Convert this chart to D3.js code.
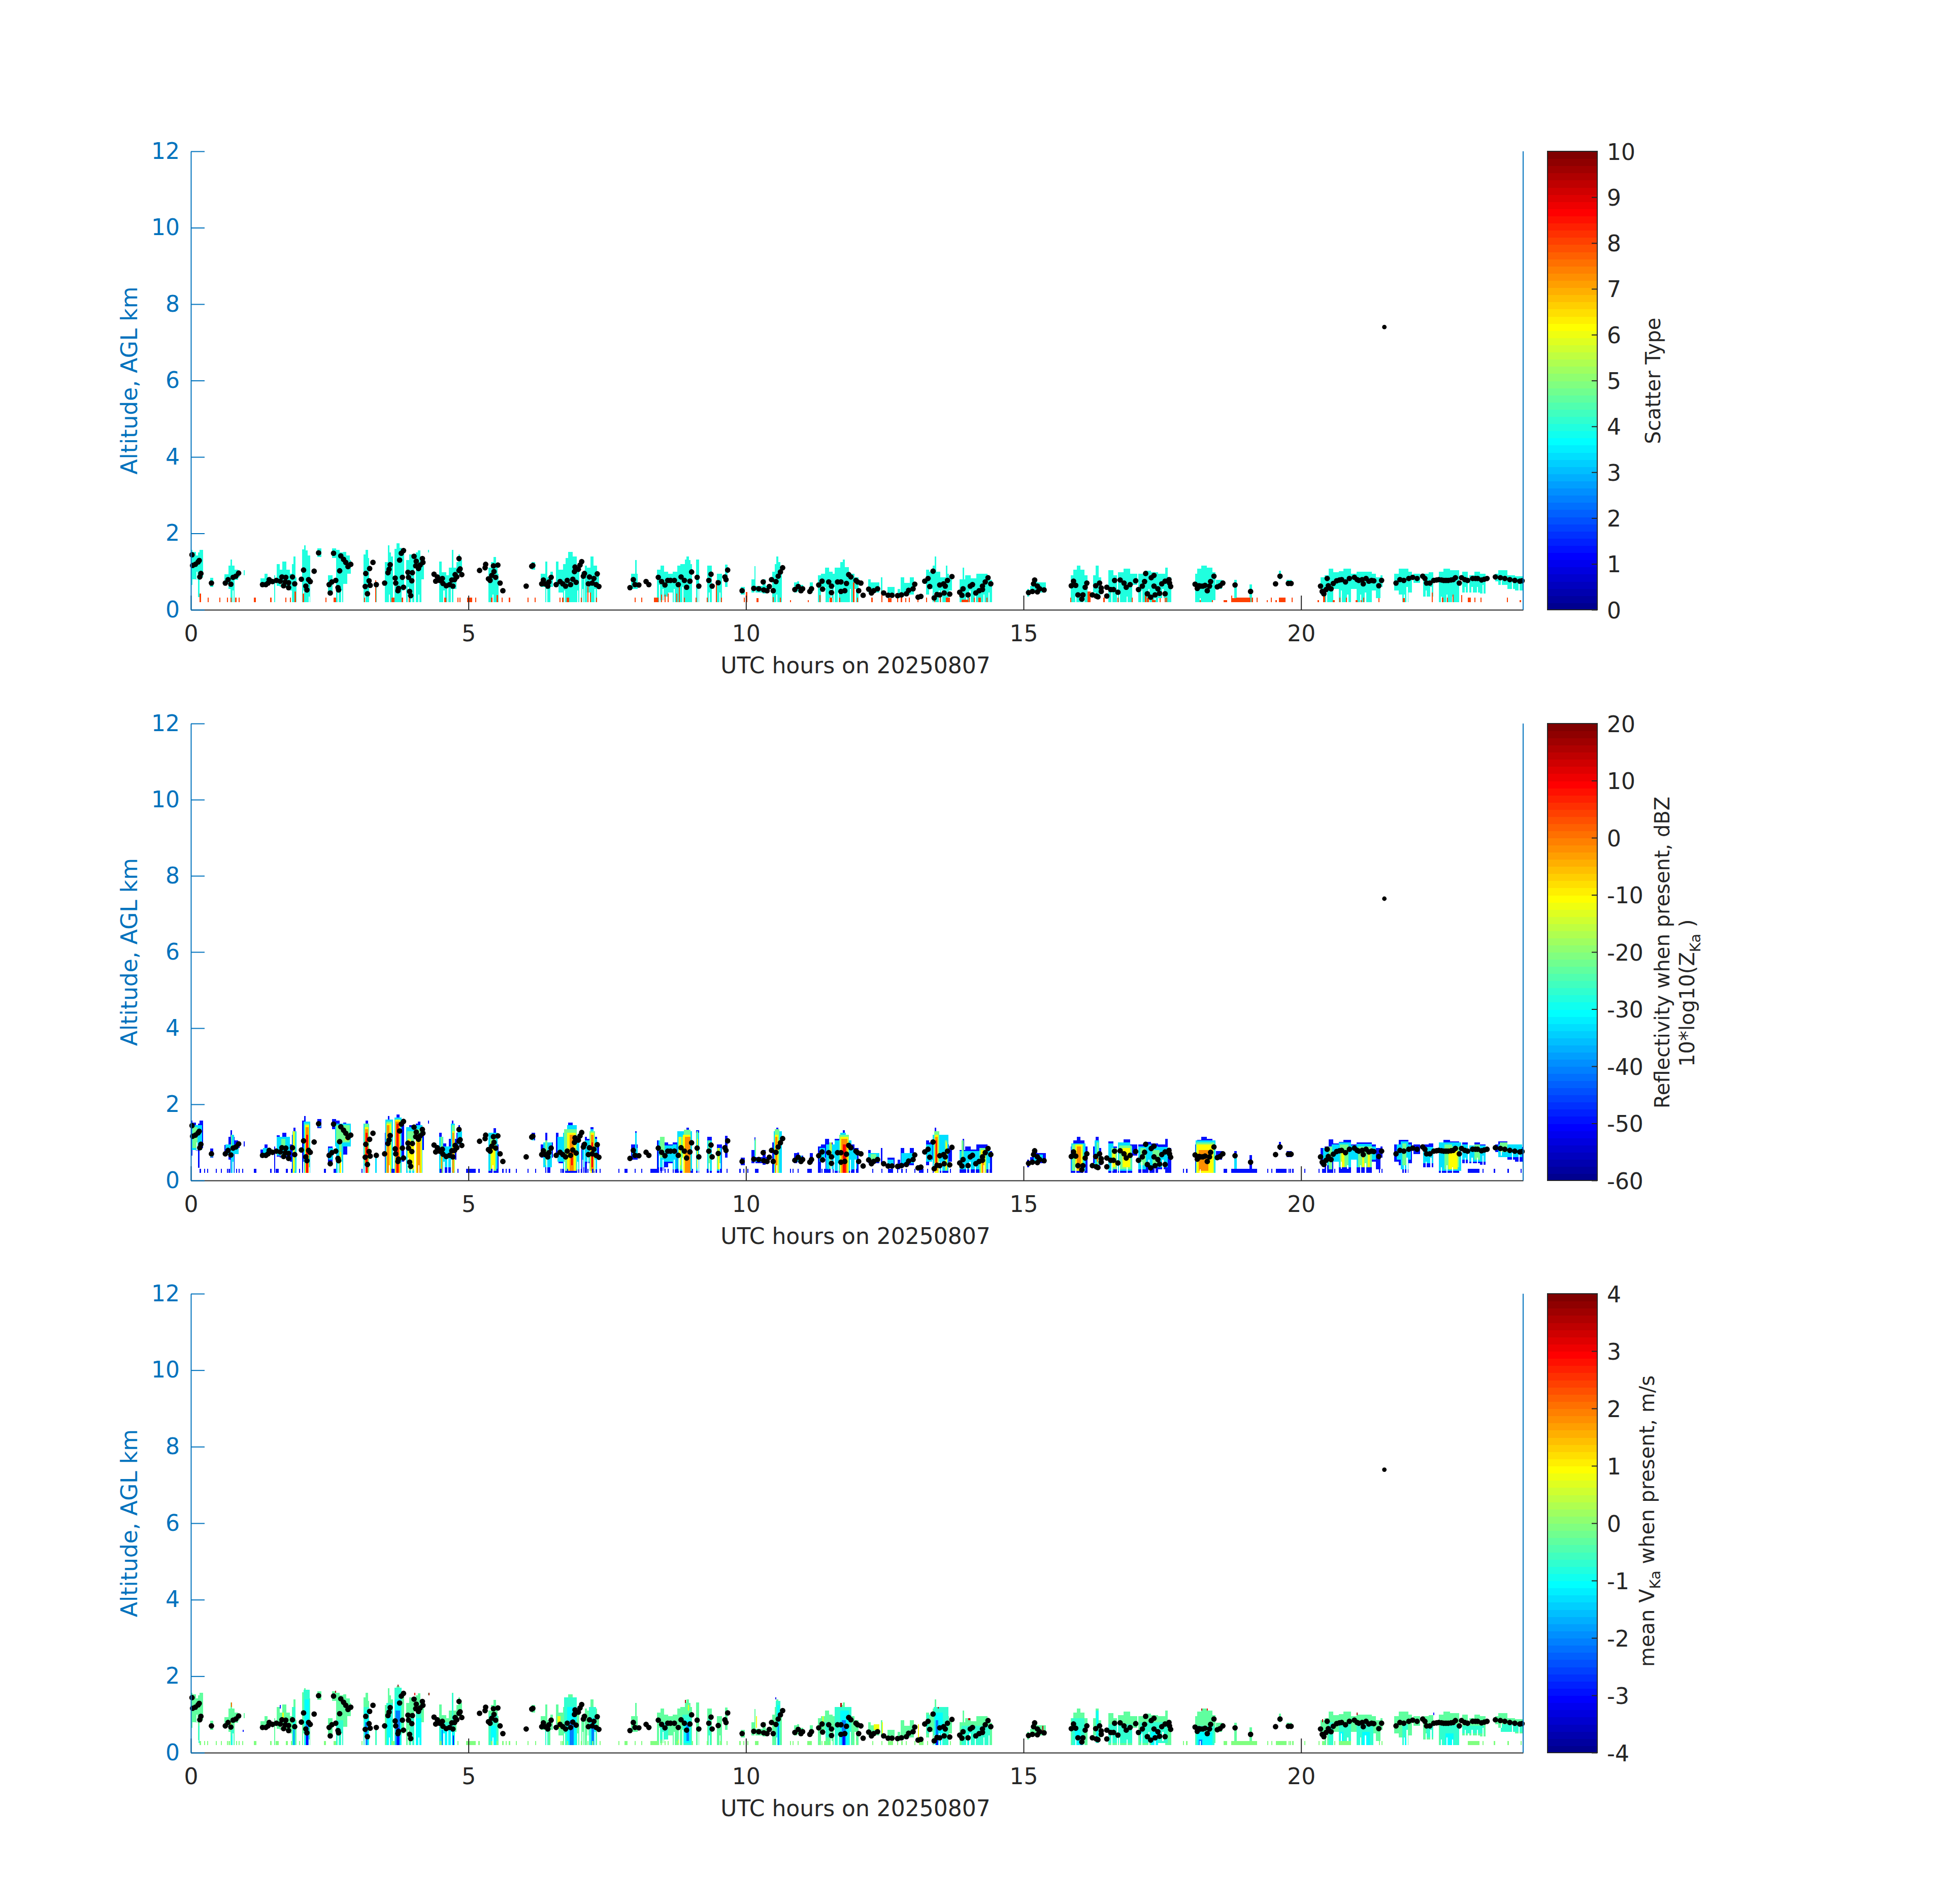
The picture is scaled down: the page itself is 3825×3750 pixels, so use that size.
<!DOCTYPE html>
<html>
<head>
<meta charset="utf-8">
<script src="https://cdn.jsdelivr.net/npm/d3@7"></script>
<style>
  html, body { margin: 0; background: #fff; }
  text { font-family: "DejaVu Sans"; }
</style>
</head>
<body>
<div id="chart"></div>
<script>
// -------- Tick labels --------
const hourTicks = [0, 5, 10, 15, 20];
const altTicks = [0, 2, 4, 6, 8, 10, 12];
const scatterTicks = [0, 1, 2, 3, 4, 5, 6, 7, 8, 9, 10];
const dbzTicks = [-60, -50, -40, -30, -20, -10, 0, 10, 20];
const velTicks = [-4, -3, -2, -1, 0, 1, 2, 3, 4];

// -------- Cloud base / top estimates: [hour0, hour1, km0, km1] --------
const cloudSpans = [
  [0,.03,.65,1.57],[.03,.09,.80,1.52],[.09,.13,.78,1.42],[.13,.16,.33,1.5],[.16,.22,.85,1.57],[.35,.40,.60,.84],
  [.60,.68,.68,.93],[.68,.71,.55,1.15],[.71,.74,.20,1.32],[.74,.79,.20,1.15],[.79,.85,.78,1.05],[.85,.88,.85,1.0],[.95,.97,.9,1.03],
  [1.25,1.33,.6,.82],[1.33,1.38,.6,.95],[1.38,1.44,.7,.85],[1.5,1.52,.2,.9],[1.55,1.6,.63,1.19],[1.6,1.65,.6,1.05],[1.65,1.72,.6,1.26],[1.72,1.78,.55,1.05],[1.78,1.82,.5,.95],
  [1.82,1.85,.2,1.2],[1.85,1.88,.2,1.39],[1.88,1.9,.2,.85],[2.0,2.04,.2,1.58],[2.04,2.07,.2,1.69],[2.07,2.1,.2,1.55],[2.1,2.15,.2,1.42],[2.28,2.35,1.38,1.61],
  [2.47,2.55,.42,.9],[2.54,2.62,1.35,1.61],[2.62,2.68,.2,1.57],[2.68,2.74,.2,1.5],[2.74,2.8,.9,1.52],[2.8,2.86,1.0,1.42],[2.74,2.82,.68,1.2],[2.82,2.88,.95,1.3],
  [3.11,3.15,.2,1.45],[3.15,3.19,.2,1.57],[3.19,3.21,.2,1.35],[3.32,3.35,.2,.7],[3.49,3.55,.2,1.25],[3.55,3.58,.2,1.69],[3.58,3.6,.2,1.5],[3.6,3.64,.2,1.4],[3.67,3.7,.2,1.6],[3.7,3.76,.2,1.74],[3.76,3.8,.2,1.62],[3.8,3.84,.5,1.5],
  [3.88,3.93,.2,1.3],[3.93,4.02,.2,1.45],[4.05,4.09,.2,1.5],[4.09,4.13,.2,1.55],[4.13,4.15,.2,1.4],[4.15,4.2,.8,1.35],[4.27,4.29,1.5,1.57],
  [4.47,4.52,.2,1.26],[4.52,4.6,.2,.98],[4.6,4.65,.2,.9],[4.65,4.7,.2,1.1],[4.7,4.73,.2,1.57],[4.73,4.78,.55,1.1],[4.78,4.82,.9,1.25],[4.82,4.85,.95,1.45],[4.85,4.88,.9,1.3],
  [5.36,5.41,.2,1.1],[5.41,5.45,.2,1.25],[5.45,5.5,.2,1.38],[5.5,5.52,.2,1.2],[5.52,5.54,.2,.95],[6.14,6.2,1.05,1.25],
  [6.3,6.38,.6,.95],[6.38,6.42,.2,1.26],[6.42,6.48,.2,.85],[6.48,6.52,.6,1.0],[6.58,6.62,.62,1.26],[6.62,6.7,.45,1.05],[6.7,6.75,.2,1.2],[6.75,6.8,.2,1.35],[6.8,6.88,.2,1.52],[6.88,6.95,.2,1.4],[6.95,7.0,.2,1.1],
  [7.03,7.09,.2,.98],[7.1,7.13,.2,1.15],[7.13,7.2,.45,1.1],[7.2,7.25,.2,1.4],[7.25,7.32,.2,1.15],[7.32,7.35,.6,1.0],
  [7.93,8.05,.55,.95],[8.0,8.03,.7,1.3],[8.2,8.23,.65,.8],
  [8.4,8.46,.2,1.05],[8.46,8.52,.25,1.15],[8.52,8.6,.35,1.0],[8.6,8.68,.45,.95],[8.68,8.76,.2,1.0],[8.76,8.82,.2,1.15],[8.82,8.9,.2,1.2],[8.9,8.93,.2,1.32],[8.93,8.97,.2,1.39],[8.97,9.0,.2,1.3],[9.0,9.03,.2,1.2],
  [9.1,9.16,.2,1.32],[9.3,9.38,.2,1.15],[9.48,9.57,.2,.95],[9.62,9.67,.6,1.18],[9.91,9.98,.4,.6],
  [10.1,10.15,.45,.8],[10.15,10.17,.5,1.14],[10.17,10.38,.45,.62],[10.3,10.35,.42,.8],[10.47,10.52,.2,1.0],[10.52,10.55,.2,1.2],[10.55,10.58,.2,1.39],[10.58,10.62,.2,1.25],[10.62,10.65,.2,1.1],
  [10.87,10.92,.45,.72],[10.92,10.96,.48,.74],[10.96,11.03,.45,.65],[11.15,11.2,.45,.72],
  [11.3,11.35,.2,.9],[11.35,11.42,.5,.95],[11.42,11.5,.2,1.1],[11.5,11.56,.3,1.0],[11.56,11.6,.2,.95],[11.6,11.7,.2,1.1],[11.7,11.74,.2,1.25],[11.74,11.78,.2,1.32],[11.78,11.85,.2,1.12],[11.85,11.95,.2,.95],[11.95,12.03,.2,.85],
  [12.2,12.25,.45,.8],[12.25,12.4,.45,.72],[12.43,12.46,.45,.85],[12.55,12.68,.35,.6],[12.73,12.78,.3,.55],[12.79,12.85,.35,.85],[12.85,12.95,.4,.7],[12.95,13.02,.4,.85],
  [13.24,13.3,.4,1.05],[13.3,13.36,.55,1.0],[13.36,13.4,.2,1.15],[13.4,13.43,.2,1.39],[13.43,13.5,.2,1.0],[13.5,13.6,.2,.85],[13.6,13.63,.2,1.15],[13.63,13.66,.2,.95],[13.66,13.71,.5,.85],
  [13.85,13.95,.2,.8],[13.9,13.93,.6,1.1],[13.95,14.05,.2,.9],[14.05,14.15,.2,.82],[14.15,14.25,.2,.95],[14.25,14.35,.2,.95],[14.35,14.43,.2,.78],
  [15.06,15.1,.35,.55],[15.12,15.22,.48,.62],[15.18,15.25,.48,.75],[15.25,15.4,.45,.72],
  [15.85,15.9,.2,.9],[15.9,15.96,.2,1.05],[15.96,16.02,.2,1.15],[16.02,16.1,.2,1.05],[16.1,16.15,.2,.9],[16.25,16.3,.45,.9],[16.3,16.35,.3,1.15],[16.35,16.4,.4,.85],
  [16.53,16.62,.2,1.03],[16.62,16.68,.2,.9],[16.7,16.8,.2,.98],[16.8,16.92,.2,1.08],[16.92,16.96,.2,.95],[16.96,17.05,.65,.95],[17.07,17.2,.2,.95],[17.2,17.3,.2,1.02],[17.3,17.42,.2,.98],[17.42,17.55,.3,.95],[17.55,17.6,.2,1.1],[17.6,17.66,.2,.85],
  [18.09,18.13,.2,.95],[18.13,18.2,.2,1.07],[18.2,18.3,.2,1.15],[18.3,18.4,.2,1.1],[18.4,18.46,.25,.98],[18.47,18.58,.55,.78],[18.8,18.84,.25,.78],[19.07,19.12,.2,.67],[19.6,19.64,.8,1.02],[19.74,19.83,.62,.78],
  [20.35,20.42,.4,.85],[20.42,20.5,.2,.9],[20.5,20.58,.2,1.08],[20.58,20.68,.55,.98],[20.68,20.76,.2,1.01],[20.76,20.9,.2,1.07],[20.9,21.0,.55,.95],[21.0,21.27,.2,1.0],[21.27,21.35,.5,.95],[21.35,21.43,.3,.85],[21.43,21.47,.6,.9],
  [21.68,21.76,.5,.95],[21.76,21.82,.4,1.07],[21.82,21.93,.2,1.07],[21.93,22.0,.45,1.0],[22.02,22.14,.7,.95],[22.2,22.3,.35,.95],[22.3,22.38,.35,.98],
  [22.48,22.56,.2,1.0],[22.56,22.68,.2,1.07],[22.68,22.85,.2,1.03],[22.9,23.0,.45,1.0],[23.03,23.12,.45,.9],[23.12,23.22,.45,1.0],[23.22,23.32,.42,.95],
  [23.5,23.55,.75,.95],[23.55,23.72,.65,1.03],[23.72,23.85,.55,.9],[23.85,24,.5,.88]
];

// -------- Slits with no return inside the clouds: [hour0, hour1, km0, km1] --------
const cloudGaps = [
  [.1,.11,.78,1.0],[.75,.76,.2,.5],[1.62,1.63,.6,.75],[1.69,1.7,.6,.8],[2.02,2.03,.2,.5],[2.12,2.13,.2,.35],[2.64,2.65,.2,.6],[2.71,2.72,.2,.5],[3.13,3.14,.2,.45],[3.57,3.58,.2,.4],[3.91,3.92,.2,.6],[3.97,3.98,.2,.5],[4.1,4.11,.2,.4],
  [4.55,4.57,.2,.5],[4.62,4.63,.2,.6],[4.68,4.69,.2,.55],[5.43,5.44,.2,.4],[6.4,6.41,.2,.55],[6.72,6.73,.2,.5],[6.96,6.98,.2,.5],[7.05,7.06,.2,.55],[7.14,7.16,.45,.7],[7.27,7.29,.2,.55],[8.43,8.44,.2,.65],[8.5,8.51,.25,.55],[8.7,8.72,.2,.55],
  [8.79,8.8,.2,.6],[8.85,8.86,.2,.6],[9.13,9.14,.2,.55],[9.33,9.34,.2,.45],[9.52,9.53,.2,.45],[10.55,10.56,.2,.4],[11.41,11.43,.2,.6],[11.52,11.53,.3,.55],[11.58,11.6,.2,.6],[11.65,11.67,.2,.45],[11.87,11.89,.2,.55],[11.95,11.98,.2,.55],
  [13.38,13.39,.2,.45],[13.47,13.48,.2,.5],[13.52,13.54,.2,.5],[13.65,13.66,.2,.45],[13.97,13.98,.2,.4],[14.02,14.05,.2,.5],[14.12,14.14,.2,.45],[14.28,14.29,.2,.4],[14.37,14.39,.2,.45],[15.93,15.94,.2,.4],[16.08,16.09,.2,.45],
  [16.58,16.59,.2,.45],[16.72,16.73,.2,.4],[16.86,16.87,.2,.35],[17.12,17.14,.2,.5],[17.25,17.27,.2,.55],[17.36,17.37,.2,.45],[17.5,17.52,.3,.55],[18.17,18.18,.2,.3],[20.45,20.47,.2,.55],[20.72,20.73,.2,.5],[20.83,20.85,.2,.4],[21.06,21.07,.2,.4],[21.15,21.17,.2,.45],
  [21.85,21.86,.2,.4],[21.9,21.92,.2,.6],[22.24,22.25,.35,.5],[22.33,22.35,.35,.6],[22.52,22.53,.2,.35],[22.62,22.63,.2,.4],[22.72,22.73,.2,.35],[22.95,22.97,.45,.6],[23.07,23.09,.45,.6],[23.17,23.19,.45,.6],[23.27,23.29,.42,.65],[23.6,23.62,.65,.78],[23.8,23.82,.55,.72],[23.92,23.94,.5,.7]
];

// -------- Scatter type 8 returns near the ground: [hour0, hour1, km1] --------
const scatterLow = [
  [.16,.18,.43],[.30,.32,.32],[.51,.53,.32],[.65,.67,.32],[.71,.73,.32],[.80,.82,.32],[.86,.88,.32],[1.13,1.17,.32],[1.43,1.45,.32],[1.70,1.72,.32],[1.78,1.80,.32],[1.87,1.89,.48],
  [2.01,2.04,.43],[2.42,2.44,.32],[2.57,2.62,.32],[3.12,3.14,.32],[3.32,3.34,.77],[3.61,3.67,.32],[3.80,3.82,.32],[3.92,3.94,.32],[4.56,4.6,.32],[4.8,4.82,.32],[4.84,4.86,.32],
  [4.98,5.07,.32],[5.12,5.14,.32],[5.41,5.43,.32],[5.51,5.53,.38],[5.6,5.62,.32],[5.73,5.75,.32],[6.06,6.08,.32],[6.19,6.21,.32],[6.64,6.66,.32],[6.69,6.71,.32],[6.77,6.81,.32],[7.02,7.04,.32],[7.14,7.16,.6],[7.19,7.21,.45],[7.3,7.32,.32],
  [7.99,8.01,.32],[8.11,8.13,.32],[8.34,8.42,.32],[8.47,8.49,.4],[8.53,8.55,.4],[8.59,8.61,.43],[8.74,8.76,.43],[8.79,8.81,.65],[8.88,8.9,.32],[9.09,9.11,.32],[9.29,9.31,.32],[9.46,9.48,.77],[9.55,9.57,.32],
  [9.96,9.98,.32],[10.0,10.02,.47],[10.19,10.23,.3],[10.48,10.5,.33],[10.61,10.63,.32],[10.79,10.81,.25],[11.11,11.13,.25],[11.32,11.34,.38],[11.51,11.55,.32],[11.68,11.7,.32],[11.93,11.95,.72],[12.0,12.02,.32],
  [12.26,12.28,.32],[12.44,12.46,.5],[12.56,12.62,.3],[12.72,12.74,.32],[12.79,12.81,.32],[12.87,12.89,.3],[12.93,12.95,.32],[13.09,13.11,.32],[13.24,13.26,.32],[13.39,13.41,.32],[13.49,13.51,.32],[13.6,13.67,.32],
  [13.88,14.0,.27],[14.01,14.03,.32],[14.1,14.12,.32],[14.19,14.23,.32],[14.33,14.35,.32],[15.84,15.86,.32],[16.15,16.21,.48],[16.44,16.46,.32],[16.69,16.71,.32],[16.95,16.97,.32],[17.19,17.21,.4],[17.31,17.33,.32],[17.45,17.47,.3],[17.54,17.56,.32],
  [17.22,17.26,.32],[17.33,17.38,.25],[17.57,17.59,.32],[18.17,18.19,.25],[18.39,18.41,.25],[18.6,18.67,.25],[18.74,18.76,.37],[18.76,18.83,.3],[18.83,19.09,.32],[19.11,19.13,.32],[19.2,19.22,.32],[19.38,19.4,.25],[19.45,19.47,.32],[19.54,19.56,.25],[19.6,19.72,.32],[19.83,19.85,.32],
  [20.3,20.32,.25],[20.4,20.43,.45],[20.57,20.61,.25],[20.69,20.71,.32],[20.81,20.83,.32],[20.98,21.02,.25],[21.07,21.09,.25],[21.12,21.14,.32],[21.39,21.41,.3],[21.83,21.87,.3],[22.35,22.37,.45],[22.54,22.56,.32],[22.63,22.65,.32],[22.73,22.75,.4],[22.88,22.9,.38],
  [23.0,23.06,.32],[23.12,23.14,.32],[23.23,23.25,.32],[23.71,23.73,.32],[23.94,23.96,.25]
];

// -------- Shallow gates at the lowest range bins: [hour0, hour1] --------
const lowGates = [
  [.16,.18],[.24,.26],[.29,.31],[.45,.47],[.54,.56],[.65,.67],[.68,.70],[.81,.83],[.86,.88],[.92,.94],[1.13,1.18],[1.43,1.45],[1.53,1.58],[1.71,1.75],[1.80,1.82],[1.95,1.97],[2.40,2.43],[2.57,2.62],[3.07,3.09],[3.61,3.67],
  [4.48,4.52],[4.80,4.82],[4.96,5.13],[5.18,5.2],[5.41,5.43],[5.51,5.53],[5.61,5.63],[5.67,5.69],[5.73,5.75],[5.85,5.87],[6.06,6.08],[6.2,6.22],[6.66,6.68],[6.69,6.71],[6.78,6.8],[7.02,7.04],[7.14,7.16],[7.23,7.25],[7.36,7.38],
  [7.70,7.72],[7.81,7.87],[7.99,8.01],[8.11,8.13],[8.28,8.42],[8.47,8.49],[8.53,8.55],[8.59,8.61],[8.74,8.78],[9.03,9.05],[9.29,9.32],[9.53,9.56],[9.65,9.67],[9.88,9.91],[9.95,9.97],[10.02,10.04],[10.16,10.23],[10.79,10.81],[10.84,10.86],[10.93,10.95],
  [11.1,11.19],[11.31,11.33],[11.36,11.38],[11.41,11.43],[11.45,11.47],[11.5,11.52],[11.98,12.0],[12.27,12.29],[12.44,12.46],[12.56,12.65],[12.72,12.74],[12.8,12.82],[12.88,12.9],[13.03,13.05],[13.12,13.2],[13.26,13.28],[13.67,13.69],
  [17.87,17.89],[17.93,17.95],[18.6,18.67],[18.74,19.21],[19.39,19.41],[19.46,19.48],[19.55,19.74],[19.77,19.79],[19.8,19.82],[19.84,19.87],[20.06,20.08],[20.31,20.33],[20.38,20.42],[20.6,20.62],[20.68,20.9],[21.4,21.42],[21.45,21.47],
  [23.0,23.21],[23.27,23.29],[23.47,23.5],[23.72,23.74],[23.95,23.97]
];

// -------- Reflectivity cores, by dBZ level: [hour0, hour1, km0, km1] --------
const zCyan = [
  [.02,.2,.8,1.45],[.35,.39,.62,.7],[.62,.86,.7,.95],[.72,.78,.2,1.2],[1.3,1.42,.68,.85],[1.55,1.78,.65,1.15],[1.83,1.9,.2,1.3],[2.03,2.15,.2,1.55],[2.3,2.34,1.4,1.5],[2.48,2.56,.55,.85],[2.6,2.88,.9,1.5],[2.62,2.74,.2,1.0],
  [3.11,3.21,.2,1.5],[3.32,3.35,.2,.7],[3.5,3.64,.2,1.6],[3.67,3.8,.2,1.65],[3.88,4.02,.2,1.4],[4.05,4.17,.2,1.45],[4.47,4.55,.2,1.15],[4.55,4.68,.35,.9],[4.68,4.76,.2,1.5],[4.8,4.88,.95,1.3],[5.36,5.52,.25,1.25],[6.14,6.18,1.05,1.15],
  [6.35,6.5,.35,1.0],[6.6,6.7,.5,1.15],[6.7,6.78,.3,1.25],[6.78,6.95,.25,1.45],[6.95,7.0,.3,1.1],[7.05,7.09,.35,.9],[7.1,7.2,.5,1.05],[7.2,7.25,.25,1.35],[7.25,7.32,.3,1.1],[7.95,8.05,.65,.85],[8.0,8.03,.85,1.25],
  [8.42,8.52,.35,1.05],[8.52,8.68,.5,.92],[8.68,8.75,.3,.95],[8.76,9.03,.25,1.3],[9.1,9.16,.25,1.25],[9.3,9.38,.25,1.05],[9.48,9.56,.25,.85],[10.17,10.36,.5,.58],[10.15,10.17,.6,1.05],
  [10.5,10.65,.2,1.3],[10.9,11.0,.5,.65],[11.32,11.42,.5,.85],[11.44,11.6,.3,.95],[11.6,11.7,.25,1.05],[11.7,11.8,.2,1.25],[11.8,11.9,.25,1.05],[11.9,12.0,.3,.82],[12.2,12.4,.48,.72],[12.55,12.66,.4,.55],[12.8,13.02,.45,.72],[13.24,13.35,.5,.95],[13.36,13.65,.25,1.2],[13.85,14.4,.3,.78],[15.18,15.35,.5,.68],
  [15.86,16.12,.25,.98],[16.28,16.36,.35,1.05],[16.53,16.62,.25,.98],[16.7,16.92,.25,1.0],[16.92,16.96,.25,.9],[17.07,17.2,.3,.9],[17.2,17.3,.4,.95],[17.3,17.42,.35,.9],[17.42,17.6,.35,.88],[18.1,18.46,.2,1.05],[18.8,18.84,.3,.72],[19.75,19.82,.65,.72],
  [20.4,20.55,.4,.85],[20.55,20.68,.5,.95],[20.68,20.9,.35,1.0],[20.9,21.0,.55,.92],[21.0,21.27,.35,.96],[21.27,21.35,.55,.9],[21.72,21.8,.55,.95],[21.8,21.93,.3,1.03],[21.93,21.98,.55,.95],
  [22.2,22.38,.45,.88],[22.48,22.88,.25,1.0],[22.9,23.0,.55,.95],[23.03,23.32,.5,.92],[23.55,23.98,.62,.95]
];
const zGreen = [
  [.03,.12,.85,1.4],[.72,.74,.9,1.2],[1.63,1.7,.8,1.1],[1.84,1.88,.25,1.3],[2.05,2.13,.2,1.5],[2.62,2.86,1.0,1.45],[2.67,2.72,.2,1.0],[3.13,3.2,.2,1.5],[3.52,3.62,.2,1.55],[3.68,3.78,.2,1.6],[3.9,4.02,.25,1.3],[4.05,4.15,.2,1.35],[4.5,4.54,.2,1.15],[4.7,4.76,.25,1.45],
  [5.39,5.5,.25,1.1],[6.38,6.42,.4,1.05],[6.72,6.95,.25,1.35],[7.18,7.28,.25,1.3],[8.45,8.53,.6,1.15],[8.78,8.88,.3,1.15],[8.88,9.0,.25,1.33],[9.11,9.14,.3,1.3],[9.32,9.36,.3,1.05],[9.48,9.53,.3,.85],[10.16,10.17,.65,1.1],[10.52,10.6,.2,1.35],[11.5,11.53,.3,1.0],[11.68,11.85,.2,1.2],
  [12.25,12.35,.55,.7],[13.39,13.48,.2,1.3],[13.58,13.63,.25,1.05],[13.88,13.92,.5,1.05],[14.2,14.33,.2,.85],[15.88,16.08,.25,.95],[16.32,16.35,.4,1.0],[16.58,16.68,.3,.85],[16.72,16.95,.3,.92],[17.1,17.2,.4,.85],[17.32,17.45,.4,.8],[18.11,18.44,.2,1.0],
  [20.5,20.56,.3,.9],[20.7,20.85,.35,.95],[21.03,21.27,.35,.9],[21.82,21.9,.4,.98],[22.58,22.72,.3,.95],[22.72,22.85,.35,.9],[23.12,23.22,.55,.95],[23.58,23.72,.75,1.0]
];
const zYellow = [
  [1.84,1.87,.2,1.3],[2.06,2.13,.2,1.45],[2.68,2.71,.2,.75],[2.78,2.85,1.05,1.2],[3.13,3.2,.2,1.4],[3.52,3.6,.2,1.5],[3.68,3.77,.2,1.6],[3.91,3.96,.4,1.1],[3.96,4.02,.3,.95],[4.05,4.16,.2,1.15],[4.5,4.53,.2,.9],[4.71,4.75,.2,1.3],[5.41,5.48,.3,1.0],
  [6.78,6.93,.25,1.25],[7.2,7.26,.2,1.25],[8.79,8.83,.4,1.15],[8.86,9.0,.2,1.2],[9.12,9.14,.35,1.1],[9.49,9.52,.3,.85],[10.52,10.58,.2,1.2],[11.52,11.54,.6,1.0],[11.7,11.84,.2,1.15],[13.4,13.46,.2,1.2],[13.6,13.62,.3,1.0],[14.23,14.31,.2,.8],
  [15.93,16.06,.25,.95],[16.6,16.66,.35,.8],[16.78,16.92,.35,.85],[18.12,18.42,.2,.95],[20.73,20.78,.35,.8],[21.1,21.14,.35,.8],[21.2,21.24,.35,.8],[22.66,22.82,.3,.85]
];
const zOrange = [
  [2.07,2.12,.2,1.4],[3.14,3.19,.2,1.35],[3.53,3.58,.2,1.45],[3.69,3.76,.2,1.55],[4.07,4.13,.2,1.0],[4.51,4.53,.2,.85],[4.71,4.74,.2,1.25],[6.82,6.9,.25,1.2],[7.21,7.25,.25,1.2],[8.9,9.0,.2,1.15],[10.53,10.56,.2,1.15],[11.72,11.83,.2,1.1],
  [13.41,13.45,.25,1.15],[14.25,14.29,.2,.7],[15.96,16.03,.3,.9],[16.32,16.34,.5,.7],[18.16,18.33,.25,.8]
];
const zRed = [
  [2.08,2.11,.2,1.2],[3.15,3.18,.2,1.25],[3.7,3.74,.2,1.5],[6.85,6.88,.4,.85],[7.22,7.24,.35,1.0],[11.74,11.8,.2,.95],[13.42,13.44,.3,1.05]
];

// -------- Mean velocity streaks, by m/s level: [hour0, hour1, km0, km1] --------
const vTeal = [
  [.14,.16,.25,.7],[.72,.78,.2,.6],[1.83,1.88,.2,1.2],[2.03,2.14,.2,1.65],[2.62,2.74,.2,.85],[3.11,3.21,.2,1.2],[3.33,3.35,.2,.65],[3.52,3.64,.2,1.3],[3.67,3.8,.2,1.7],[3.95,4.02,.2,.9],[4.05,4.15,.2,1.1],[4.47,4.76,.2,.8],[4.7,4.73,.2,1.55],[5.37,5.52,.2,1.0],
  [6.38,6.44,.2,.6],[6.72,6.95,.2,1.45],[7.17,7.3,.2,1.2],[8.45,8.6,.35,.8],[8.85,9.02,.2,1.0],[9.32,9.37,.2,.9],[10.54,10.62,.2,1.35],[11.42,11.5,.4,.8],[11.6,11.9,.2,1.2],[13.25,13.3,.5,1.0],[13.38,13.65,.2,1.2],[13.88,14.4,.2,.7],[15.87,16.1,.2,.9],
  [16.3,16.35,.25,1.1],[16.53,16.68,.25,.75],[16.7,16.96,.25,.75],[17.1,17.6,.25,.8],[18.1,18.44,.2,.7],[20.5,20.58,.2,.8],[20.68,20.9,.2,.8],[21.0,21.3,.2,.8],[21.82,21.92,.2,.75],[22.25,22.38,.4,.7],[22.5,22.85,.2,.75],[22.9,23.3,.5,.7],[23.6,23.98,.55,.75]
];
const vCyan = [
  [.73,.77,.2,.45],[1.84,1.87,.2,.9],[2.05,2.13,.2,1.4],[3.13,3.2,.2,1.1],[3.53,3.6,.2,1.0],[3.68,3.79,.2,1.4],[4.05,4.15,.2,.9],[4.5,4.75,.2,.6],[5.41,5.5,.2,.7],[6.78,6.95,.2,1.2],[7.2,7.3,.2,.9],[8.88,9.0,.25,.85],[10.56,10.6,.2,1.25],[11.7,11.85,.2,1.1],
  [13.4,13.55,.2,1.05],[14.0,14.05,.2,.55],[15.92,16.02,.2,.6],[16.32,16.34,.3,1.1],[17.1,17.14,.3,.6],[17.3,17.42,.2,.55],[18.13,18.4,.2,.55],[20.7,20.76,.2,.55],[21.1,21.24,.2,.55],[21.85,21.9,.2,.4],[22.6,22.75,.2,.5]
];
const vBlue = [
  [1.85,1.87,.2,.6],[2.07,2.12,.2,.75],[3.14,3.18,.2,.8],[3.69,3.77,.2,1.1],[4.52,4.54,.2,.6],[6.82,6.9,.2,.85],[7.22,7.26,.2,.7],[8.93,8.97,.3,.75],[10.57,10.59,.2,.7],[11.73,11.8,.2,.85],[13.42,13.46,.2,.85],[16.02,16.05,.2,.4],[18.16,18.22,.2,.35]
];
const vDeep = [
  [2.08,2.11,.2,.55],[3.71,3.75,.2,.65],[4.72,4.74,.2,.45],[11.74,11.78,.2,.45],[13.43,13.45,.2,.4]
];
const vYellow = [
  [.7,.72,.6,.8],[1.65,1.67,.9,1.05],[6.6,6.66,.65,.95],[8.78,8.8,.25,.35],[8.95,8.97,1.1,1.25],[11.38,11.4,.75,.95],[12.3,12.4,.6,.75],[12.45,12.47,.5,.8],[13.1,13.12,.25,.75],[10.18,10.2,.65,.95]
];
// hour0, hour1, km0, km1, m/s
const vSpecks = [
  [3.72,3.74,1.72,1.78,4],[.72,.74,1.2,1.32,2],[1.6,1.62,1.15,1.25,-3],[2.6,2.62,1.57,1.62,3.5],[4.02,4.04,1.5,1.57,3],[4.28,4.3,1.5,1.57,3.5],[8.9,8.92,1.3,1.38,3.5],[10.53,10.55,1.4,1.45,-3.2],[11.7,11.73,1.2,1.3,3.5],
  [13.45,13.47,1.15,1.2,3.5],[14.0,14.04,.85,.9,3.5],[15.34,15.36,.55,.7,3.5],[18.2,18.22,1.1,1.15,3.5],[18.3,18.32,1.1,1.15,3],[21.0,21.02,.98,1.05,3.5],[20.38,20.4,.8,.87,3.5],[22.38,22.4,.98,1.05,-3],[.93,.95,.55,.6,-3]
];

// -------- Cloud base retrievals, same in all panels: [hour, km] --------
const ceilometerDots = [
  [.02,1.44],[.03,1.16],[.08,1.19],[.13,1.25],[.15,1.29],[.18,.95],[.16,.86],[.37,.70],[.62,.70],[.67,.79],[.72,.67],[.76,.85],[.81,.88],[.86,.96],
  [1.29,.66],[1.35,.66],[1.39,.70],[1.41,.79],[1.47,.74],[1.54,.77],[1.61,.75],[1.64,.86],[1.71,.85],[1.67,.63],[1.70,.73],[1.76,.71],[1.76,.58],[1.83,.86],[1.87,.68],[1.99,.80],[2.03,1.04],[2.07,.62],[2.09,.52],[2.12,.79],[2.15,.74],[2.22,1.01],[2.30,1.49],
  [2.49,.66],[2.54,.73],[2.51,.44],[2.57,1.48],[2.61,.77],[2.65,.58],[2.66,.52],[2.68,1.02],[2.70,1.41],[2.75,1.32],[2.79,1.24],[2.83,1.13],[2.88,1.19],
  [3.14,.61],[3.15,.95],[3.18,.42],[3.21,.76],[3.22,1.08],[3.23,.64],[3.28,1.24],[3.34,.66],[3.49,.70],[3.55,.97],[3.57,1.06],[3.59,1.18],[3.68,.83],[3.69,.70],[3.73,.50],[3.74,.56],[3.76,1.30],[3.79,1.48],[3.83,1.55],[3.83,.59],[3.81,.85],
  [3.91,.98],[3.92,.85],[3.94,.48],[3.96,.37],[3.98,.76],[3.99,.97],[4.02,1.40],[4.05,1.15],[4.06,1.27],[4.10,1.08],[4.13,1.17],[4.17,1.34],[4.18,1.24],
  [4.38,.93],[4.41,.75],[4.44,.86],[4.48,.77],[4.53,.82],[4.54,.69],[4.60,.63],[4.66,.66],[4.70,.78],[4.75,.79],[4.76,.92],[4.79,.86],[4.83,1.34],[4.83,1.03],[4.85,1.07],[4.88,.92],[4.72,.62],
  [5.20,1.03],[5.30,1.10],[5.31,1.19],[5.36,.81],[5.39,.77],[5.42,.90],[5.45,1.15],[5.46,1.00],[5.49,.85],[5.53,1.17],[5.57,.70],[5.62,.50],
  [6.04,.62],[6.14,1.14],[6.16,1.16],[6.32,.68],[6.35,.78],[6.38,.68],[6.43,.62],[6.45,.73],[6.49,.85],[6.58,.66],[6.65,.74],[6.70,.68],[6.75,.62],[6.78,.77],[6.84,.66],[6.88,.80],[6.91,1.00],[6.92,1.12],[6.94,.72],[6.98,1.06],[7.01,1.17],[7.04,1.26],[7.07,.88],[7.09,.95],
  [7.16,.68],[7.18,.86],[7.23,.70],[7.26,.82],[7.30,.66],[7.32,.94],[7.35,.61],[7.91,.58],[7.97,.79],[8.00,.66],[8.07,.65],[8.20,.74],[8.25,.66],
  [8.42,.85],[8.48,.74],[8.54,.65],[8.59,.77],[8.64,.77],[8.71,.77],[8.78,.66],[8.83,.86],[8.89,.77],[8.93,.59],[8.99,.75],[9.02,.99],[9.12,.85],[9.15,.62],[9.33,.77],[9.37,.93],[9.39,.62],[9.50,.71],[9.62,.86],[9.64,.79],[9.67,1.04],
  [9.93,.50],[10.14,.56],[10.23,.55],[10.31,.73],[10.32,.52],[10.38,.50],[10.42,.61],[10.46,.79],[10.49,.50],[10.54,.74],[10.58,.88],[10.62,.99],[10.66,1.10],[10.88,.53],[10.94,.61],[10.99,.50],[11.02,.55],[11.15,.48],[11.18,.55],
  [11.31,.65],[11.37,.75],[11.38,.54],[11.49,.73],[11.54,.45],[11.54,.62],[11.65,.73],[11.71,.48],[11.71,.73],[11.78,.50],[11.81,.69],[11.85,.92],[11.89,.86],[11.98,.77],[12.01,.73],[12.03,.50],[12.07,.70],[12.11,.38],
  [12.21,.54],[12.26,.44],[12.30,.50],[12.37,.55],[12.48,.44],[12.56,.38],[12.63,.38],[12.73,.37],[12.80,.39],[12.89,.42],[12.93,.51],[13.01,.55],[13.04,.67],[13.10,.33],[13.15,.35],[13.22,.75],[13.28,.82],[13.31,.61],[13.37,1.01],[13.39,.31],
  [13.44,.40],[13.49,.39],[13.49,.65],[13.57,.44],[13.56,.68],[13.59,.62],[13.63,.77],[13.67,.41],[13.71,.87],[13.85,.46],[13.91,.55],[13.89,.38],[14.00,.39],[14.04,.62],[14.08,.66],[14.14,.44],[14.20,.50],[14.26,.53],[14.26,.62],[14.31,.73],[14.36,.84],[14.41,.68],
  [15.09,.45],[15.16,.48],[15.20,.78],[15.18,.68],[15.25,.62],[15.25,.47],[15.29,.55],[15.37,.52],
  [15.86,.63],[15.90,.75],[15.94,.64],[15.98,.39],[16.05,.28],[16.07,.39],[16.11,.59],[16.14,.70],[16.24,.39],[16.30,.63],[16.31,.36],[16.34,.34],[16.37,.70],[16.40,.48],[16.40,.57],[16.50,.36],[16.50,.59],[16.57,.53],[16.62,.53],[16.70,.46],[16.64,.77],[16.74,.78],[16.81,.70],[16.85,.59],[16.92,.66],[17.02,.76],
  [17.07,.53],[17.14,.62],[17.18,.74],[17.20,.95],[17.23,.42],[17.29,.33],[17.30,.84],[17.35,.90],[17.35,.62],[17.37,.39],[17.42,.55],[17.45,.43],[17.49,.68],[17.55,.75],[17.55,.42],[17.62,.79],[17.63,.70],[17.65,.61],
  [18.09,.67],[18.13,.56],[18.16,.63],[18.19,.62],[18.23,.62],[18.27,.64],[18.31,.50],[18.35,.62],[18.37,.74],[18.43,.88],[18.49,.60],[18.54,.63],[18.59,.70],[18.81,.65],[19.09,.48],[19.54,.68],[19.62,.88],[19.77,.69],[19.82,.69],
  [20.35,.62],[20.38,.48],[20.41,.42],[20.45,.53],[20.47,.82],[20.49,.63],[20.54,.55],[20.58,.69],[20.64,.76],[20.69,.78],[20.73,.79],[20.80,.73],[20.87,.82],[20.96,.85],[21.01,.79],[21.04,.77],[21.10,.79],[21.12,.68],[21.17,.82],[21.22,.75],[21.27,.77],[21.31,.76],[21.40,.63],[21.45,.77],
  [21.50,7.40],[21.71,.70],[21.78,.79],[21.85,.77],[21.94,.82],[22.01,.85],[22.09,.82],[22.19,.88],[22.23,.82],[22.26,.70],[22.32,.70],[22.39,.77],[22.44,.78],[22.48,.79],[22.53,.78],[22.57,.77],[22.61,.77],[22.65,.77],[22.70,.78],[22.74,.79],[22.78,.84],[22.85,.70],[22.89,.84],[22.95,.79],[23.00,.77],[23.09,.82],[23.14,.82],[23.18,.82],[23.25,.78],[23.30,.80],[23.35,.82],
  [23.50,.86],[23.59,.84],[23.67,.82],[23.76,.79],[23.85,.77],[23.94,.75],[23.98,.76]
];

// -------- Colormap: 64 step jet --------
function jet(t) {
  const i = Math.min(63, Math.floor(t * 64));
  const v = (i + 1) / 64;
  const ch = c => Math.round(255 * Math.max(0, Math.min(1, 1.5 - Math.abs(4 * v - c))));
  return `rgb(${ch(3)},${ch(2)},${ch(1)})`;
}

const W = 3825, H = 3750;
const DARK = "#262626", BLUE = "#0072BD";
const FONT = 44;

const svg = d3.select("#chart").append("svg")
  .attr("width", W).attr("height", H)
  .style("display", "block");

const x = d3.scaleLinear().domain([0, 24]).range([376, 3000]);

function drawPanel(top, bottom, domain, cticks, layers, lowValue, lowList) {
  const y = d3.scaleLinear().domain([0, 12]).range([bottom, top]);
  const c = d3.scaleLinear().domain(domain).range([bottom, top]);
  const color = v => jet((v - domain[0]) / (domain[1] - domain[0]));
  const g = svg.append("g");

  // heat map columns
  layers.forEach(layer => {
    g.append("g").attr("shape-rendering", "crispEdges")
      .selectAll("rect").data(layer.spans).join("rect")
      .attr("x", d => x(d[0]))
      .attr("width", d => Math.max(2, x(d[1]) - x(d[0])))
      .attr("y", d => y(d[3]))
      .attr("height", d => y(d[2]) - y(d[3]))
      .attr("fill", d => color(d.length > 4 ? d[4] : layer.value));
  });

  // slits with no return
  g.append("g").attr("shape-rendering", "crispEdges")
    .selectAll("rect").data(cloudGaps).join("rect")
    .attr("x", d => x(d[0]))
    .attr("width", d => Math.max(2, x(d[1]) - x(d[0])))
    .attr("y", d => y(d[3]))
    .attr("height", d => y(d[2]) - y(d[3]))
    .attr("fill", "#fff");

  // lowest range gates
  g.append("g").attr("shape-rendering", "crispEdges")
    .selectAll("rect").data(lowList).join("rect")
    .attr("x", d => x(d[0]))
    .attr("width", d => Math.max(2, x(d[1]) - x(d[0])))
    .attr("y", d => y(d.length > 2 ? d[2] : .31))
    .attr("height", d => y(.195) - y(d.length > 2 ? d[2] : .31))
    .attr("fill", color(lowValue));

  // cloud base dots
  g.append("g").selectAll("circle").data(ceilometerDots).join("circle")
    .attr("cx", d => x(d[0]))
    .attr("cy", d => y(d[1]))
    .attr("r", d => d[1] > 7 ? 4.4 : 5.4)
    .attr("fill", "#000");

  // bottom axis
  const xAxis = g.append("g").attr("transform", `translate(0,${bottom})`)
    .call(d3.axisBottom(x).tickValues(hourTicks).tickFormat(String)
      .tickSizeInner(-28).tickSizeOuter(0).tickPadding(31));
  xAxis.select(".domain").attr("stroke", DARK).attr("stroke-width", 2);
  xAxis.selectAll("line").attr("stroke", DARK).attr("stroke-width", 2);
  xAxis.selectAll("text").attr("fill", DARK).attr("font-size", FONT).attr("font-family", "DejaVu Sans");

  // left axis
  const yAxis = g.append("g").attr("transform", `translate(${x(0)},0)`)
    .call(d3.axisLeft(y).tickValues(altTicks).tickFormat(String)
      .tickSizeInner(-27).tickSizeOuter(0).tickPadding(22));
  yAxis.select(".domain").attr("stroke", BLUE).attr("stroke-width", 2);
  yAxis.selectAll("line").attr("stroke", BLUE).attr("stroke-width", 2);
  yAxis.selectAll("text").attr("fill", BLUE).attr("font-size", FONT).attr("font-family", "DejaVu Sans");

  // right axis line
  g.append("line").attr("x1", x(24)).attr("x2", x(24)).attr("y1", top).attr("y2", bottom)
    .attr("stroke", BLUE).attr("stroke-width", 2);

  g.append("text").attr("x", x(12) - 3).attr("y", bottom + 125)
    .attr("text-anchor", "middle").attr("font-size", FONT).attr("fill", DARK)
    .text("UTC hours on 20250807");

  g.append("text")
    .attr("transform", `translate(270,${(top + bottom) / 2}) rotate(-90)`)
    .attr("text-anchor", "middle").attr("font-size", FONT).attr("fill", BLUE)
    .text("Altitude, AGL km");

  // colorbar
  const cbX = 3048, cbW = 98;
  const steps = d3.range(64);
  const sh = (bottom - top) / 64;
  g.append("g").attr("shape-rendering", "crispEdges")
    .selectAll("rect").data(steps).join("rect")
    .attr("x", cbX).attr("width", cbW)
    .attr("y", i => bottom - (i + 1) * sh)
    .attr("height", sh + 1)
    .attr("fill", i => jet((i + .5) / 64));
  g.append("rect").attr("x", cbX).attr("y", top).attr("width", cbW).attr("height", bottom - top)
    .attr("fill", "none").attr("stroke", DARK).attr("stroke-width", 2);
  const cAxis = g.append("g").attr("transform", `translate(${cbX + cbW},2)`)
    .call(d3.axisRight(c).tickValues(cticks).tickFormat(String)
      .tickSizeInner(-11).tickSizeOuter(0).tickPadding(19));
  cAxis.select(".domain").remove();
  cAxis.selectAll("line").attr("stroke", DARK).attr("stroke-width", 2).attr("transform", "translate(0,-2)");
  cAxis.selectAll("text").attr("fill", DARK).attr("font-size", FONT).attr("font-family", "DejaVu Sans");
  return g;
}

function sideLabel(g, xPos, yPos, anchor, parts) {
  const t = g.append("text")
    .attr("transform", `translate(${xPos},${yPos}) rotate(-90)`)
    .attr("text-anchor", anchor).attr("font-size", 40).attr("fill", DARK);
  parts.forEach(p => {
    t.append("tspan").attr("font-size", p.sub ? 29 : 40)
      .attr("dy", p.sub ? 12 : (p.after ? -12 : 0))
      .text(p.text);
  });
}

// -------- Panels --------
const p1 = drawPanel(298, 1201, [0, 10], scatterTicks,
  [{ spans: cloudSpans, value: 4 }], 8, scatterLow);
sideLabel(p1, 3270, 750, "middle", [{ text: "Scatter Type" }]);

const p2 = drawPanel(1425, 2325, [-60, 20], dbzTicks,
  [{ spans: cloudSpans, value: -50 },
   { spans: zCyan, value: -33 },
   { spans: zGreen, value: -22 },
   { spans: zYellow, value: -11 },
   { spans: zOrange, value: -2 },
   { spans: zRed, value: 9 }], -50, lowGates);
sideLabel(p2, 3288, 1876, "middle", [{ text: "Reflectivity when present, dBZ" }]);
sideLabel(p2, 3337, 2101, "start",
  [{ text: "10*log10(Z" }, { text: "Ka", sub: true }, { text: " )", after: true }]);

const p3 = drawPanel(2548, 3452, [-4, 4], velTicks,
  [{ spans: cloudSpans, value: -.3 },
   { spans: vTeal, value: -.75 },
   { spans: vCyan, value: -1.1 },
   { spans: vBlue, value: -2.1 },
   { spans: vDeep, value: -3.1 },
   { spans: vYellow, value: .8 },
   { spans: vSpecks, value: 0 }], -.1, lowGates);
sideLabel(p3, 3258, 3283, "start",
  [{ text: "mean V" }, { text: "Ka", sub: true }, { text: " when present, m/s", after: true }]);
</script>
</body>
</html>
